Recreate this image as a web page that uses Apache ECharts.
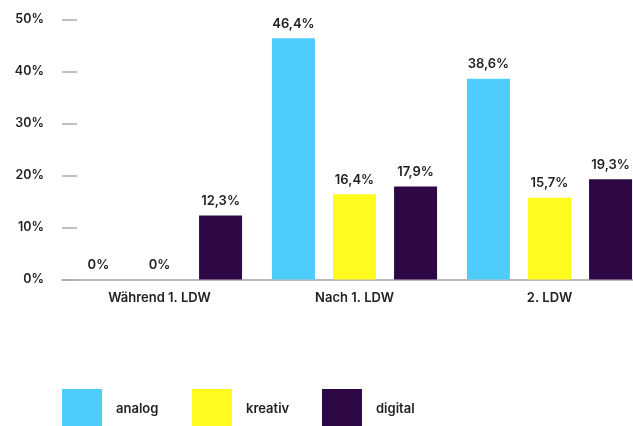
<!DOCTYPE html>
<html>
<head>
<meta charset="utf-8">
<script src="https://cdn.jsdelivr.net/npm/echarts@6/dist/echarts.min.js"></script>
<style>
html,body{margin:0;padding:0;background:#fff;}
#c{width:633px;height:426px;}
</style>
</head>
<body>
<div id="c"></div>
<script>
var categories = ['Während 1. LDW', 'Nach 1. LDW', '2. LDW'];
var seriesNames = ['analog', 'kreativ', 'digital'];
var analog = [0, 46.4, 38.6];
var kreativ = [0, 16.4, 15.7];
var digital = [12.3, 17.9, 19.3];
var yTicks = [0, 10, 20, 30, 40, 50];

var colors = ['#4ecdfc', '#fffb1e', '#2e0845'];
var font = 'Inter, "Noto Sans", sans-serif';
var txt = '#222222';

function fmt(p) {
  return String(p.value).replace('.', ',') + '%';
}
function mk(name, data, color) {
  return {
    name: name,
    type: 'bar',
    data: data,
    barWidth: 43,
    barGap: '42%',
    itemStyle: { color: color },
    label: {
      show: true, position: 'top', distance: 8,
      formatter: fmt, color: txt, fontSize: 13, fontWeight: 600, fontFamily: font
    }
  };
}
function lg(name, left) {
  return {
    data: [name],
    left: left, top: 389, padding: 0,
    icon: 'rect', itemWidth: 40, itemHeight: 40,
    textStyle: { color: txt, fontSize: 13, fontWeight: 600, fontFamily: font, padding: [0, 0, 0, 9] }
  };
}

var chart = echarts.init(document.getElementById('c'), null, { renderer: 'canvas' });
chart.setOption({
  animation: false,
  backgroundColor: '#ffffff',
  color: colors,
  grid: { left: 62, top: 19.5, width: 585, height: 260, containLabel: false, outerBoundsMode: 'none' },
  legend: [lg(seriesNames[0], 62), lg(seriesNames[1], 192), lg(seriesNames[2], 322)],
  xAxis: {
    type: 'category',
    data: categories,
    axisLine: { lineStyle: { color: '#ab9ea6', width: 1.5 } },
    axisTick: { show: false },
    axisLabel: { color: txt, fontSize: 13, fontWeight: 600, fontFamily: font, margin: 12 }
  },
  yAxis: {
    type: 'value',
    min: yTicks[0], max: yTicks[yTicks.length - 1], interval: 10,
    axisLine: { show: false },
    axisTick: { show: true, inside: true, length: 15, lineStyle: { color: '#aaaaaa', width: 1.5 } },
    splitLine: { show: false },
    axisLabel: { color: txt, fontSize: 12.5, fontWeight: 600, fontFamily: font, margin: 18, formatter: '{value}%' }
  },
  series: [
    mk(seriesNames[0], analog, colors[0]),
    mk(seriesNames[1], kreativ, colors[1]),
    mk(seriesNames[2], digital, colors[2])
  ]
});
</script>
</body>
</html>
